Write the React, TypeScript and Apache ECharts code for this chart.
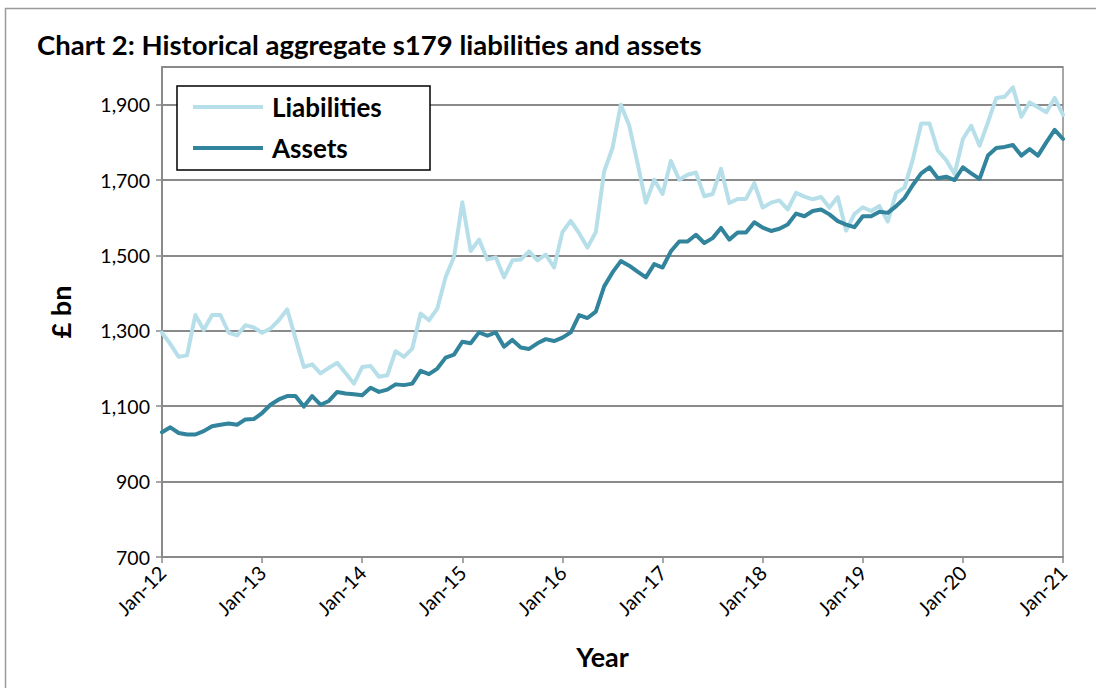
import React, { useEffect, useRef } from "react";
import * as echarts from "echarts";

const MONTHS = ["Jan", "Feb", "Mar", "Apr", "May", "Jun", "Jul", "Aug", "Sep", "Oct", "Nov", "Dec"];
const YEARS = [12, 13, 14, 15, 16, 17, 18, 19, 20, 21];

const categories: string[] = [];
for (const y of YEARS) {
  for (const m of MONTHS) {
    if (y === 21 && m !== "Jan") break;
    categories.push(`${m}-${y}`);
  }
}

const liabilities = [
  1295, 1265, 1231, 1235, 1342, 1302, 1342, 1342, 1295, 1288, 1315, 1309,
  1295, 1306, 1328, 1357, 1280, 1204, 1211, 1187, 1202, 1215, 1188, 1160,
  1204, 1207, 1178, 1182, 1246, 1231, 1253, 1346, 1328, 1359, 1443, 1496,
  1641, 1512, 1542, 1489, 1495, 1442, 1487, 1489, 1511, 1487, 1502, 1468,
  1562, 1592, 1559, 1521, 1562, 1723, 1785, 1900, 1845, 1745, 1640, 1701,
  1663, 1751, 1701, 1714, 1720, 1657, 1663, 1730, 1639, 1650, 1650, 1692,
  1627, 1640, 1646, 1622, 1666, 1656, 1649, 1655, 1627, 1655, 1566, 1610,
  1628, 1618, 1631, 1590, 1666, 1680, 1755, 1850, 1850, 1778, 1753, 1716,
  1809, 1844, 1791, 1853, 1918, 1921, 1946, 1868, 1906, 1893, 1880, 1918,
  1873,
];

const assets = [
  1031, 1044, 1029, 1025, 1025, 1034, 1047, 1051, 1054, 1051, 1065, 1066,
  1082, 1104, 1118, 1127, 1127, 1099, 1127, 1104, 1114, 1138, 1134, 1132,
  1129, 1149, 1138, 1144, 1158, 1156, 1160, 1194, 1185, 1200, 1229, 1237,
  1271, 1267, 1296, 1287, 1296, 1258, 1276, 1256, 1252, 1267, 1278, 1273,
  1282, 1296, 1342, 1334, 1351, 1418, 1455, 1485, 1473, 1457, 1442, 1477,
  1468, 1511, 1537, 1537, 1555, 1533, 1546, 1573, 1542, 1561, 1561, 1588,
  1574, 1565, 1571, 1582, 1611, 1604, 1618, 1622, 1609, 1591, 1582, 1575,
  1604, 1604, 1616, 1613, 1631, 1652, 1687, 1718, 1734, 1705, 1709, 1700,
  1734, 1718, 1703, 1765, 1785, 1788, 1793, 1765, 1782, 1765, 1800, 1833,
  1809,
];

const TITLE = "Chart 2: Historical aggregate s179 liabilities and assets";
const FONT = "Lato, 'Liberation Sans Narrow', 'Open Sans', sans-serif";
const GRID_GRAY = "#8a8a8a";

export default function App() {
  const ref = useRef<HTMLDivElement>(null);
  useEffect(() => {
    if (!ref.current) return;
    const chart = echarts.init(ref.current, undefined, { renderer: "svg" });
    chart.setOption({
      animation: false,
      backgroundColor: "#ffffff",
      textStyle: { fontFamily: FONT },
      graphic: [
        {
          type: "rect",
          shape: { x: 5.5, y: 8.5, width: 1200, height: 800 },
          style: { fill: "none", stroke: "#9a9a9a", lineWidth: 1.5 },
          silent: true,
        },
        {
          type: "text",
          left: 37,
          top: 30,
          style: {
            text: TITLE,
            font: `bold 27.5px ${FONT}`,
            fill: "#000",
          },
        },
        {
          type: "rect",
          z: 10,
          shape: { x: 177, y: 86, width: 253, height: 84 },
          style: { fill: "#fff", stroke: "#000", lineWidth: 1.5 },
        },
      ],
      grid: {
        left: 162,
        right: 33,
        top: 67,
        bottom: 131,
        show: true,
        borderColor: GRID_GRAY,
        borderWidth: 1.5,
        containLabel: false,
      },
      legend: {
        z: 20,
        left: 188,
        top: 89,
        orient: "vertical",
        itemWidth: 70,
        itemHeight: 4,
        itemGap: 15,
        icon: "rect",
        textStyle: {
          fontFamily: FONT,
          fontSize: 26,
          fontWeight: "bold",
          color: "#000",
          lineHeight: 26,
          padding: [0, 0, 0, 4],
        },
        data: ["Liabilities", "Assets"],
      },
      xAxis: {
        type: "category",
        data: categories,
        boundaryGap: false,
        name: "Year",
        nameLocation: "middle",
        nameGap: 86,
        nameTextStyle: {
          fontSize: 27,
          fontWeight: "bold",
          color: "#000",
          fontFamily: FONT,
          padding: [0, 20, 0, 0],
        },
        axisLine: { lineStyle: { color: GRID_GRAY, width: 2 } },
        axisTick: { show: true, interval: 11, length: 6, lineStyle: { color: GRID_GRAY, width: 1.5 } },
        axisLabel: {
          interval: 11,
          rotate: 45,
          margin: 12,
          fontSize: 20,
          color: "#000",
          fontFamily: FONT,
        },
        splitLine: { show: false },
      },
      yAxis: {
        type: "value",
        min: 700,
        max: 2000,
        interval: 200,
        name: "£ bn",
        nameLocation: "middle",
        nameGap: 88,
        nameTextStyle: { fontSize: 27, fontWeight: "bold", color: "#000", fontFamily: FONT },
        axisLine: { show: true, lineStyle: { color: GRID_GRAY, width: 2 } },
        axisTick: { show: true, length: 6, lineStyle: { color: GRID_GRAY, width: 1.5 } },
        axisLabel: {
          showMaxLabel: false,
          margin: 12,
          fontSize: 19.5,
          color: "#000",
          fontFamily: FONT,
          formatter: (v: number) => v.toLocaleString("en-US"),
        },
        splitLine: { show: true, lineStyle: { color: GRID_GRAY, width: 2 } },
      },
      series: [
        {
          name: "Liabilities",
          type: "line",
          data: liabilities,
          showSymbol: false,
          symbol: "none",
          color: "#b7dfe9",
          lineStyle: { width: 4, color: "#b7dfe9", join: "round", cap: "round" },
        },
        {
          name: "Assets",
          type: "line",
          data: assets,
          showSymbol: false,
          symbol: "none",
          color: "#31849b",
          lineStyle: { width: 4, color: "#31849b", join: "round", cap: "round" },
        },
      ],
    });
    return () => chart.dispose();
  }, []);
  return (
    <div
      ref={ref}
      style={{ position: "fixed", left: 0, top: 0, width: 1096, height: 688 }}
    />
  );
}
